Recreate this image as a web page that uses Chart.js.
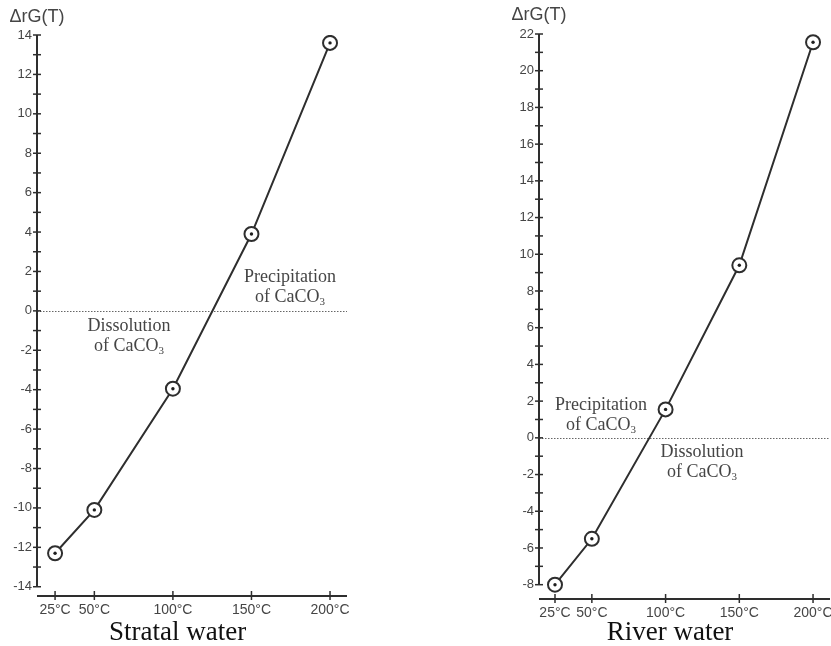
<!DOCTYPE html>
<html>
<head>
<meta charset="utf-8">
<script src="https://cdn.jsdelivr.net/npm/chart.js@4/dist/chart.umd.min.js"></script>
<style>
  html, body { margin: 0; padding: 0; background: #fff; overflow: hidden; }
  #wrap { position: relative; width: 831px; height: 646px; overflow: hidden; }
  .box { position: absolute; top: 0; height: 646px; }
  #left { left: 0; width: 415px; }
  #right { left: 415px; width: 431px; }
</style>
</head>
<body>
<div id="wrap">
  <div class="box" id="left"><canvas id="strataChart" width="415" height="646"></canvas></div>
  <div class="box" id="right"><canvas id="riverChart" width="431" height="646"></canvas></div>
</div>
<script>
// temperatures (°C) and ΔrG(T)
var temps = [25, 50, 100, 150, 200]
var strataValues = [-12.3, -10.1, -3.95, 3.9, 13.6]
var riverValues = [-8.0, -5.5, 1.55, 9.4, 21.55]
var strataTicks = [-14, -12, -10, -8, -6, -4, -2, 0, 2, 4, 6, 8, 10, 12, 14]
var riverTicks = [-8, -6, -4, -2, 0, 2, 4, 6, 8, 10, 12, 14, 16, 18, 20, 22]

var SANS = '"Liberation Sans", Arial, sans-serif'
var SERIF = '"Liberation Serif", "Times New Roman", serif'
var INK = '#2e2e2e'
var TEXT = '#454545'

function drawNote(ctx, x, y, first) {
  ctx.font = '18px ' + SERIF
  ctx.textAlign = 'center'
  ctx.textBaseline = 'middle'
  ctx.fillText(first, x, y)
  // "of CaCO3" with a subscript 3
  var main = 'of CaCO'
  ctx.font = '18px ' + SERIF
  var w1 = ctx.measureText(main).width
  ctx.font = '11px ' + SERIF
  var w2 = ctx.measureText('3').width
  var start = x - (w1 + w2) / 2
  ctx.textAlign = 'left'
  ctx.font = '18px ' + SERIF
  ctx.fillText(main, start, y + 20)
  ctx.font = '11px ' + SERIF
  ctx.fillText('3', start + w1, y + 25)
}

var axesPlugin = {
  id: 'axesPlugin',
  beforeDatasetsDraw: function (chart) {
    var c = chart.ctx
    var a = chart.chartArea
    var xs = chart.scales.x
    var ys = chart.scales.y
    var t = chart.options.plugins.axesPlugin
    c.save()
    // zero line
    c.strokeStyle = '#666'
    c.lineWidth = 1
    c.setLineDash([1.5, 1.5])
    c.beginPath()
    c.moveTo(a.left, Math.round(ys.getPixelForValue(0)) + 0.5)
    c.lineTo(a.right, Math.round(ys.getPixelForValue(0)) + 0.5)
    c.stroke()
    c.setLineDash([])

    c.strokeStyle = INK
    c.lineWidth = 2
    // y axis
    var lo = t.yTicks[0]
    var hi = t.yTicks[t.yTicks.length - 1]
    c.beginPath()
    c.moveTo(a.left, ys.getPixelForValue(lo))
    c.lineTo(a.left, ys.getPixelForValue(hi))
    c.stroke()
    c.lineWidth = 1.5
    for (var v = lo; v <= hi; v++) {
      var py = ys.getPixelForValue(v)
      c.beginPath()
      c.moveTo(a.left - 4, py)
      c.lineTo(a.left + 4, py)
      c.stroke()
    }
    // x axis
    c.lineWidth = 2
    c.beginPath()
    c.moveTo(a.left, a.bottom)
    c.lineTo(a.right, a.bottom)
    c.stroke()
    c.lineWidth = 1.5
    temps.forEach(function (tv) {
      var px = xs.getPixelForValue(tv)
      c.beginPath()
      c.moveTo(px, a.bottom - 5)
      c.lineTo(px, a.bottom + 4)
      c.stroke()
    })
    c.restore()
  },
  afterDraw: function (chart) {
    var c = chart.ctx
    var a = chart.chartArea
    var xs = chart.scales.x
    var ys = chart.scales.y
    var t = chart.options.plugins.axesPlugin
    c.save()
    c.fillStyle = TEXT
    c.font = '18px ' + SANS
    c.textAlign = 'center'
    c.textBaseline = 'middle'
    c.fillText('ΔrG(T)', a.left, t.titleY)

    c.font = '27px ' + SERIF
    c.textBaseline = 'alphabetic'
    c.fillStyle = '#111'
    c.fillText(t.caption, xs.getPixelForValue(103), 640)

    c.fillStyle = TEXT
    t.notes.forEach(function (n) {
      drawNote(c, xs.getPixelForValue(n.x), ys.getPixelForValue(n.y), n.text)
    })
    c.restore()
  }
}

function makeChart(id, values, yTicks, cfg) {
  var ctx = document.getElementById(id).getContext('2d')
  var points = temps.map(function (t, i) { return { x: t, y: values[i] } })
  return new Chart(ctx, {
    type: 'scatter',
    data: {
      datasets: [
        {
          data: points,
          order: 1,
          showLine: true,
          borderColor: INK,
          borderWidth: 2,
          pointRadius: 7,
          pointBorderWidth: 2,
          pointBorderColor: INK,
          pointBackgroundColor: '#fff',
        },
        {
          data: points,
          order: 0,
          showLine: false,
          pointRadius: 1.7,
          pointBorderWidth: 0,
          pointBackgroundColor: '#1e1e1e',
        },
      ],
    },
    options: {
      responsive: false,
      animation: false,
      devicePixelRatio: 1,
      layout: { padding: cfg.padding },
      plugins: {
        legend: { display: false },
        tooltip: { enabled: false },
        axesPlugin: {
          yTicks: yTicks,
          titleY: cfg.titleY,
          caption: cfg.caption,
          notes: cfg.notes,
        },
      },
      scales: {
        x: {
          type: 'linear',
          min: cfg.xMin,
          max: cfg.xMax,
          grid: { display: false, drawTicks: false },
          border: { display: false },
          afterBuildTicks: function (s) { s.ticks = temps.map(function (v) { return { value: v } }) },
          afterFit: function (s) { s.height = cfg.xHeight },
          ticks: {
            padding: 6,
            color: TEXT,
            font: { family: SANS, size: 14 },
            callback: function (v) { return v + '°C' },
          },
        },
        y: {
          min: cfg.yMin,
          max: cfg.yMax,
          grid: { display: false, drawTicks: false },
          border: { display: false },
          afterBuildTicks: function (s) { s.ticks = yTicks.map(function (v) { return { value: v } }) },
          afterFit: function (s) { s.width = cfg.yWidth },
          ticks: {
            padding: 5,
            color: TEXT,
            font: { family: SANS, size: 13 },
          },
        },
      },
    },
    plugins: [axesPlugin],
  })
}

makeChart('strataChart', strataValues, strataTicks, {
  xMin: 13.5, xMax: 210.8, yMin: -14.47, yMax: 14,
  padding: { top: 35, right: 68, left: 0, bottom: 0 },
  yWidth: 37, xHeight: 50, titleY: 17,
  caption: 'Stratal water',
  notes: [
    { x: 174.5, y: 1.73, text: 'Precipitation' },
    { x: 72, y: -0.76, text: 'Dissolution' },
  ],
})

makeChart('riverChart', riverValues, riverTicks, {
  xMin: 14.15, xMax: 211.5, yMin: -8.78, yMax: 22,
  padding: { top: 34, right: 16, left: 0, bottom: 0 },
  yWidth: 124, xHeight: 47, titleY: 15,
  caption: 'River water',
  notes: [
    { x: 56.2, y: 1.78, text: 'Precipitation' },
    { x: 124.7, y: -0.78, text: 'Dissolution' },
  ],
})
</script>
</body>
</html>
